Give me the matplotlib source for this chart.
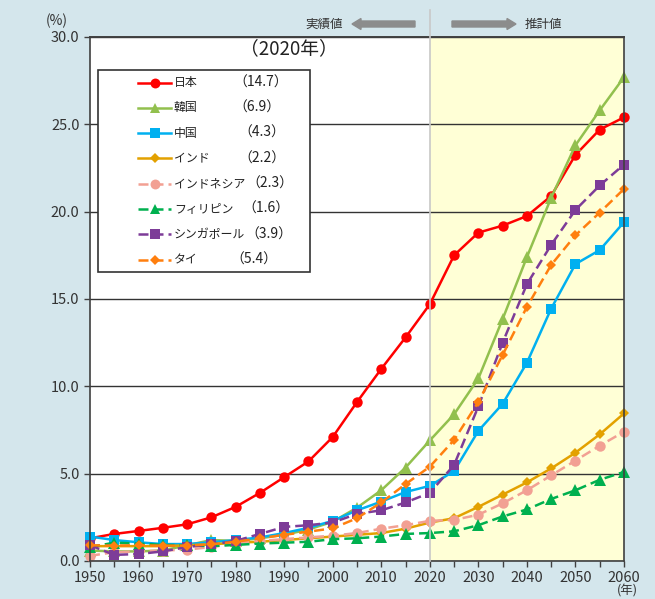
import matplotlib
matplotlib.use("Agg")
import matplotlib.pyplot as plt
from matplotlib.lines import Line2D
from matplotlib.patches import Rectangle, FancyArrow

plt.rcParams['font.family'] = ['Noto Sans CJK JP', 'DejaVu Sans']

years = list(range(1950, 2061, 5))

names = ["日本", "韓国", "中国", "インド", "インドネシア", "フィリピン", "シンガポール", "タイ"]

japan = [1.3, 1.55, 1.72, 1.9, 2.1, 2.5, 3.1, 3.9, 4.8, 5.7, 7.1, 9.1, 11.0, 12.8, 14.7,
         17.5, 18.8, 19.2, 19.75, 20.9, 23.25, 24.7, 25.4]
korea = [0.6, 0.55, 0.55, 0.6, 0.9, 1.2, 1.15, 1.3, 1.5, 1.8, 2.25, 3.05, 4.05, 5.35, 6.9,
         8.4, 10.45, 13.85, 17.4, 20.8, 23.8, 25.8, 27.7]
china = [1.4, 1.2, 1.07, 0.97, 0.97, 1.07, 1.2, 1.35, 1.6, 1.9, 2.3, 2.9, 3.4, 3.95, 4.3,
         5.15, 7.45, 9.0, 11.35, 14.45, 17.0, 17.8, 19.4]
india = [0.85, 0.85, 0.85, 0.85, 0.9, 0.95, 1.05, 1.1, 1.2, 1.3, 1.4, 1.5, 1.6, 1.85, 2.2,
         2.45, 3.1, 3.8, 4.5, 5.3, 6.2, 7.25, 8.45]
indonesia = [0.3, 0.5, 0.55, 0.6, 0.65, 0.8, 1.0, 1.15, 1.25, 1.35, 1.45, 1.6, 1.85, 2.05, 2.3,
             2.35, 2.65, 3.3, 4.05, 4.9, 5.75, 6.6, 7.4]
philippines = [0.8, 1.05, 1.0, 0.92, 0.9, 0.85, 0.92, 1.0, 1.05, 1.1, 1.25, 1.3, 1.4, 1.55, 1.6,
               1.7, 2.05, 2.55, 2.95, 3.55, 4.05, 4.65, 5.1]
singapore = [0.9, 0.35, 0.4, 0.55, 0.8, 0.95, 1.15, 1.55, 1.95, 2.05, 2.2, 2.7, 2.9, 3.35, 3.9,
             5.5, 8.85, 12.5, 15.85, 18.1, 20.1, 21.5, 22.7]
thailand = [0.9, 0.88, 0.9, 0.88, 0.88, 0.96, 1.1, 1.3, 1.5, 1.68, 1.87, 2.45, 3.35, 4.4, 5.4,
            6.93, 9.1, 11.8, 14.55, 16.95, 18.65, 19.95, 21.3]

series = [japan, korea, china, india, indonesia, philippines, singapore, thailand]
colors = ["#ff0000", "#92c04e", "#00b0f0", "#e3a100", "#f2a093", "#00b04f", "#7d3c98", "#ff7f0e"]
markers = ["o", "^", "s", "D", "o", "^", "s", "D"]
msizes = [7.5, 8, 7, 5, 7.5, 8, 7, 5.5]
styles = ["-", "-", "-", "-", "--", "--", "--", "--"]

x_ticks = list(range(1950, 2061, 10))
y_ticks = [0, 5, 10, 15, 20, 25, 30]
base_year = 2020

W, H = 655, 599
fig = plt.figure(figsize=(W / 100, H / 100), dpi=100)
fig.patch.set_facecolor("#d4e6ec")

L, R, T, B = 90, 624, 37, 561
ax = fig.add_axes([L / W, 1 - B / H, (R - L) / W, (B - T) / H])
ax.set_facecolor("white")
ax.set_xlim(1950, 2060)
ax.set_ylim(0, 30)

# projection period shading
ax.axvspan(base_year, 2060, color="#ffffd6", zorder=0)
ax.set_yticks(y_ticks)
ax.yaxis.grid(True, color="#333333", linewidth=1)
ax.set_axisbelow(True)

for s, c, m, ms, ls in zip(series, colors, markers, msizes, styles):
    kw = dict(color=c, marker=m, markersize=ms, linewidth=1.8, linestyle=ls,
              clip_on=False, markeredgewidth=0)
    if ls == "--":
        kw["dashes"] = (4, 2)
    ax.plot(years, s, **kw)

ax.set_xticks(x_ticks)
ax.set_xticks(years, minor=True)
ax.set_yticklabels([f"{v:.1f}" for v in y_ticks])
ax.tick_params(axis="both", which="both", direction="out", colors="#404040",
               labelcolor="#333333", labelsize=10.5, length=4, width=1)
ax.tick_params(axis="x", pad=3)
for sp in ax.spines.values():
    sp.set_color("#404040")
    sp.set_linewidth(1.2)

# boundary between actual and projected values
fig.add_artist(Line2D([430 / W, 430 / W], [1 - B / H, 1 - 10 / H], color="#c8c8c8", lw=1.2))
ax.axhline(30, color="#404040", lw=1.2, clip_on=False)

# arrows and labels above the plot
ay = 1 - 24 / H
fig.add_artist(FancyArrow(415 / W, ay, -63 / W, 0, width=6 / H, head_width=11 / H,
                          head_length=9 / W, length_includes_head=True,
                          color="#8c8c8c", transform=fig.transFigure))
fig.add_artist(FancyArrow(452 / W, ay, 64 / W, 0, width=6 / H, head_width=11 / H,
                          head_length=9 / W, length_includes_head=True,
                          color="#8c8c8c", transform=fig.transFigure))
fig.text(324 / W, ay, "実績値", ha="center", va="center", fontsize=9, color="#333333")
fig.text(543 / W, ay, "推計値", ha="center", va="center", fontsize=9, color="#333333")

fig.text(57 / W, 1 - 21 / H, "(%)", ha="center", va="center", fontsize=10, color="#333333")
fig.text(627 / W, 1 - 591 / H, "(年)", ha="center", va="center", fontsize=9, color="#333333")


def ax_xy(px, py):
    return (px - L) / (R - L), (B - py) / (B - T)


ax.text(*ax_xy(289, 49), "（2020年）", transform=ax.transAxes, ha="center", va="center",
        fontsize=13.5, color="#222222")

# legend panel
x0, y0 = ax_xy(98, 272)
x1, y1 = ax_xy(310, 70)
ax.add_patch(Rectangle((x0, y0), x1 - x0, y1 - y0, transform=ax.transAxes,
                       facecolor="white", edgecolor="#333333", lw=1.2, zorder=5))
idx = years.index(base_year)
value_x = [233, 233, 238, 238, 246, 242, 245, 230]
for i, (n, s, c, m, ms, ls) in enumerate(zip(names, series, colors, markers, msizes, styles)):
    ry = 82.5 + i * 25.3
    la, yy = ax_xy(138, ry)
    lb, _ = ax_xy(171, ry)
    lm, _ = ax_xy(154.5, ry)
    kw = dict(color=c, linewidth=1.8, linestyle=ls, transform=ax.transAxes, zorder=6)
    if ls == "--":
        kw["dashes"] = (4, 2)
    ax.add_line(Line2D([la, lb], [yy, yy], **kw))
    ax.add_line(Line2D([lm], [yy], marker=m, markersize=ms * 0.95, color=c,
                       markeredgewidth=0, transform=ax.transAxes, zorder=7))
    tx, _ = ax_xy(174, ry)
    ax.text(tx, yy, n, transform=ax.transAxes, ha="left", va="center",
            fontsize=8.6, color="#222222", zorder=7)
    vx, _ = ax_xy(value_x[i], ry)
    ax.text(vx, yy, f"（{s[idx]:.1f}）", transform=ax.transAxes, ha="left", va="center",
            fontsize=10, color="#222222", zorder=7)

fig.savefig("out.png", dpi=100, facecolor=fig.get_facecolor())
